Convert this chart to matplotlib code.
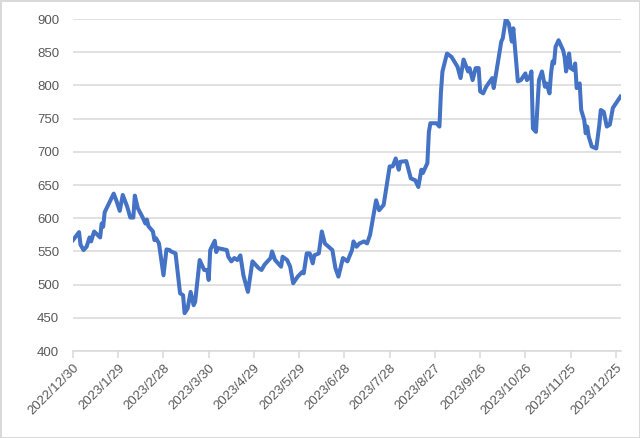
import numpy as np
import pandas as pd
import matplotlib
matplotlib.use("Agg")
import matplotlib.pyplot as plt
from matplotlib.transforms import ScaledTranslation

START = "2022-12-30"

# day offset from START
days = [0, 4, 5, 7, 9, 11, 12, 14, 18, 19, 20, 21, 27, 29, 31, 33, 36, 38, 40, 41,
        43, 46, 48, 49, 50, 53, 54, 55, 57, 60, 62, 64, 65, 68, 71, 73, 74, 76, 78, 80,
        81, 84, 87, 89, 90, 91, 94, 95, 96, 102, 103, 105, 107, 109, 111, 113, 116, 119, 123, 125,
        127, 131, 132, 134, 136, 138, 139, 142, 144, 146, 149, 152, 153, 155, 157, 159, 160, 163, 165, 167,
        172, 174, 176, 179, 182, 185, 186, 188, 190, 193, 195, 197, 201, 203, 206, 210, 212, 214, 216, 217,
        221, 224, 227, 229, 231, 232, 235, 236, 237, 241, 243, 244, 245, 248, 251, 255, 257, 259, 262, 263,
        265, 267, 269, 270, 272, 274, 278, 279, 284, 285, 287, 289, 291, 292, 295, 297, 300, 301, 303, 304,
        305, 307, 309, 311, 313, 314, 316, 317, 318, 319, 320, 322, 325, 326, 327, 329, 330, 332, 333, 334,
        336, 337, 339, 340, 341, 342, 344, 347, 349, 350, 352, 354, 356, 358, 363]
values = [567, 579, 560, 552, 557, 571, 565, 580, 571, 592, 587, 609, 637, 625, 611, 635, 617, 601, 601, 634,
          615, 602, 592, 598, 588, 580, 567, 570, 562, 514, 553, 552, 550, 547, 487, 484, 457, 464, 489, 469,
          474, 537, 522, 522, 507, 552, 566, 549, 555, 552, 542, 535, 540, 537, 544, 514, 489, 535, 525, 522,
          530, 540, 550, 537, 532, 527, 542, 537, 527, 502, 512, 519, 517, 547, 547, 532, 544, 547, 580, 562,
          552, 525, 512, 540, 535, 552, 565, 557, 562, 565, 562, 575, 627, 612, 620, 678, 678, 690, 673, 685,
          686, 660, 657, 647, 673, 668, 683, 730, 743, 743, 738, 790, 821, 848, 843, 828, 811, 839, 821, 826,
          808, 826, 826, 791, 788, 798, 811, 796, 866, 871, 900, 893, 866, 886, 806, 808, 818, 808, 813, 821,
          735, 730, 808, 821, 798, 803, 788, 818, 836, 833, 858, 868, 853, 843, 821, 848, 826, 823, 833, 796,
          803, 763, 748, 728, 738, 723, 708, 705, 740, 763, 760, 738, 741, 766, 783]

tick_step = 30
n_ticks = 13
y_min, y_max, y_step = 400, 900, 50

t0 = pd.Timestamp(START)
dates = t0 + pd.to_timedelta(days, unit="D")
tick_dates = [t0 + pd.Timedelta(days=tick_step * i) for i in range(n_ticks)]
tick_labels = [f"{d.year}/{d.month}/{d.day}" for d in tick_dates]

plt.rcParams["font.family"] = ["Liberation Sans", "DejaVu Sans"]
grey = "#595959"
grid_c = "#d9d9d9"

fig = plt.figure(figsize=(6.4, 4.38), dpi=100)
fig.patch.set_edgecolor(grid_c)
fig.patch.set_linewidth(2)
ax = fig.add_axes([73 / 640, 1 - 351 / 438, 548 / 640, 332 / 438])

ax.plot(dates, values, color="#4472C4", lw=2.9, solid_joinstyle="round", zorder=3)

ax.set_ylim(y_min, y_max)
ax.set_yticks(np.arange(y_min, y_max + 1, y_step))
ax.set_xlim(t0, t0 + pd.Timedelta(days=363.4))
ax.set_xticks(tick_dates)
ax.set_xticklabels(tick_labels, rotation=45, ha="right", va="top", rotation_mode="anchor")
shift = ScaledTranslation(6 / 100, -2 / 100, fig.dpi_scale_trans)
for lab in ax.get_xticklabels():
    lab.set_transform(lab.get_transform() + shift)

ax.grid(axis="y", color=grid_c, lw=1.1, zorder=0)
for s in ["top", "right", "left"]:
    ax.spines[s].set_visible(False)
ax.spines["bottom"].set_color(grid_c)
ax.spines["bottom"].set_linewidth(1.1)
ax.tick_params(axis="y", length=0, pad=10, labelsize=9.5, labelcolor=grey)
ax.tick_params(axis="x", length=5, width=1.1, color=grid_c, pad=3, labelsize=9.5, labelcolor=grey)

fig.savefig("out.png", dpi=100, edgecolor=fig.get_edgecolor())
print("saved out.png")
